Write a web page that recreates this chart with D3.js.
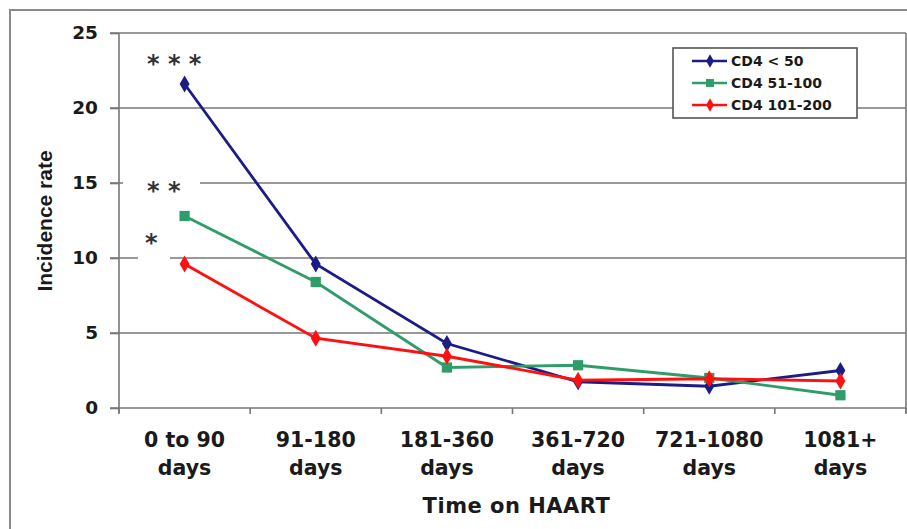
<!DOCTYPE html>
<html>
<head>
<meta charset="utf-8">
<script src="https://cdn.jsdelivr.net/npm/d3@7"></script>
<style>
    body { margin: 0; background: #fff; }
    svg { display: block; }
</style>
</head>
<body>
<script>
// chart data
const categories = [
    ["0 to 90", "days"],
    ["91-180", "days"],
    ["181-360", "days"],
    ["361-720", "days"],
    ["721-1080", "days"],
    ["1081+", "days"]
]
const seriesNames = ["CD4 < 50", "CD4 51-100", "CD4 101-200"]
const cd4Under50 = [21.6, 9.6, 4.3, 1.75, 1.45, 2.5]
const cd4From51 = [12.8, 8.4, 2.7, 2.85, 2.0, 0.85]
const cd4From101 = [9.6, 4.65, 3.45, 1.85, 1.95, 1.8]
const yTicks = [0, 5, 10, 15, 20, 25]
const stars = ["* * *", "* *", "*"]

const W = 907, H = 529
const margin = { top: 33, right: 1, bottom: 121, left: 119 }
    , width = W - margin.left - margin.right
    , height = H - margin.top - margin.bottom

const font = "'DejaVu Sans', sans-serif"
const colors = ["#1c1c86", "#2f9d6a", "#ff1010"]
const shapes = [d3.symbolDiamond, d3.symbolSquare, d3.symbolDiamond]
const sizes = [85, 105, 85]

const series = [cd4Under50, cd4From51, cd4From101].map((vals, i) => ({
    name: seriesNames[i],
    color: colors[i],
    shape: shapes[i],
    size: sizes[i],
    values: vals.map((v, j) => ({ cat: categories[j][0], v: v }))
}))

const svg = d3.select("body").append("svg")
    .attr("width", W)
    .attr("height", H)

// outer frame of the chart
svg.append("rect")
    .attr("x", 10).attr("y", 10)
    .attr("width", W + 20).attr("height", H + 20)
    .attr("fill", "none")
    .attr("stroke", "#8a8a8a")
    .attr("stroke-width", 2)

const xScale = d3.scaleBand()
    .domain(categories.map(c => c[0]))
    .range([margin.left, margin.left + width])

const yScale = d3.scaleLinear()
    .domain([0, 25])
    .range([margin.top + height, margin.top])

const gridColor = "#777"

// gridlines + y tick marks
svg.append("g")
    .selectAll("line")
    .data(yTicks.filter(t => t > 0))
    .enter()
    .append("line")
    .attr("x1", margin.left - 9)
    .attr("x2", margin.left + width)
    .attr("y1", d => yScale(d))
    .attr("y2", d => yScale(d))
    .attr("stroke", gridColor)
    .attr("stroke-width", 1.6)

// right edge of plot area
svg.append("line")
    .attr("x1", margin.left + width).attr("x2", margin.left + width)
    .attr("y1", yScale(25)).attr("y2", yScale(0) + 5)
    .attr("stroke", gridColor)
    .attr("stroke-width", 1.6)

// y axis
const yAxis = svg.append("g")
    .attr("transform", "translate(" + margin.left + ",0)")
    .call(d3.axisLeft(yScale).tickValues(yTicks).tickSize(9).tickPadding(12))
yAxis.select(".domain").attr("d", "M0," + yScale(25) + "V" + (yScale(0) + 5))
yAxis.selectAll("line, path").attr("stroke", gridColor).attr("stroke-width", 1.6)
yAxis.selectAll("text")
    .attr("fill", "#1a1a1a")
    .style("font-family", font)
    .style("font-weight", "bold")
    .style("font-size", "18.5px")

// x axis with ticks at the category boundaries
const xAxisG = svg.append("g")
xAxisG.append("line")
    .attr("x1", margin.left - 9).attr("x2", margin.left + width)
    .attr("y1", yScale(0)).attr("y2", yScale(0))
    .attr("stroke", gridColor)
    .attr("stroke-width", 1.6)
const bounds = categories.map(c => xScale(c[0])).concat([margin.left + width])
xAxisG.selectAll(".xt")
    .data(bounds)
    .enter()
    .append("line")
    .attr("x1", d => d).attr("x2", d => d)
    .attr("y1", yScale(0)).attr("y2", yScale(0) + 6)
    .attr("stroke", gridColor)
    .attr("stroke-width", 1.6)

// category labels on two lines
const catLabels = xAxisG.selectAll(".cat")
    .data(categories)
    .enter()
    .append("text")
    .attr("text-anchor", "middle")
    .attr("fill", "#1a1a1a")
    .style("font-family", font)
    .style("font-weight", "bold")
    .style("font-size", "20.5px")
catLabels.append("tspan")
    .attr("x", d => xScale(d[0]) + xScale.bandwidth() / 2)
    .attr("y", yScale(0) + 39)
    .text(d => d[0])
catLabels.append("tspan")
    .attr("x", d => xScale(d[0]) + xScale.bandwidth() / 2)
    .attr("y", yScale(0) + 67)
    .text(d => d[1])

// axis titles
svg.append("text")
    .attr("text-anchor", "middle")
    .attr("x", margin.left + width / 2 + 4)
    .attr("y", 513)
    .attr("fill", "#1a1a1a")
    .style("font-family", font)
    .style("font-weight", "bold")
    .style("font-size", "21px")
    .style("letter-spacing", "0.5px")
    .text("Time on HAART")

svg.append("text")
    .attr("text-anchor", "middle")
    .attr("transform", "translate(52," + 221 + ")rotate(-90)")
    .attr("fill", "#1a1a1a")
    .style("font-family", "'Liberation Sans', Arial, sans-serif")
    .style("font-weight", "bold")
    .style("font-size", "21px")
    .text("Incidence rate")

// significance stars, with white boxes that cut the gridlines
const x0 = xScale(categories[0][0])
const starPos = [
    { x: x0 + 28, y: yScale(21.6) - 12, box: null },
    { x: x0 + 28, y: yScale(12.8) - 17, box: [x0 + 4, yScale(15) - 8, 77, 18] },
    { x: x0 + 26, y: yScale(9.6) - 13, box: [x0 + 19, yScale(10) - 24, 32, 30] }
]
stars.forEach((s, i) => {
    const p = starPos[i]
    if (p.box) {
        svg.append("rect")
            .attr("x", p.box[0])
            .attr("y", p.box[1])
            .attr("width", p.box[2])
            .attr("height", p.box[3])
            .attr("fill", "#fff")
    }
    svg.append("text")
        .attr("x", p.x)
        .attr("y", p.y)
        .attr("fill", "#333")
        .style("font-family", font)
        .style("font-size", "24px")
        .style("font-weight", "bold")
        .text(s)
})

// lines and markers
const line = d3.line()
    .x(d => xScale(d.cat) + xScale.bandwidth() / 2)
    .y(d => yScale(d.v))

series.forEach(s => {
    svg.append("path")
        .datum(s.values)
        .attr("d", line)
        .attr("fill", "none")
        .attr("stroke", s.color)
        .attr("stroke-width", 2.8)
    svg.selectAll(null)
        .data(s.values)
        .enter()
        .append("path")
        .attr("d", d3.symbol().type(s.shape).size(s.size))
        .attr("transform", d => "translate(" + (xScale(d.cat) + xScale.bandwidth() / 2) + "," + yScale(d.v) + ")")
        .attr("fill", s.color)
})

// legend
const legend = svg.append("g").attr("transform", "translate(673,48)")
legend.append("rect")
    .attr("width", 184).attr("height", 70)
    .attr("fill", "#fff")
    .attr("stroke", "#555")
    .attr("stroke-width", 1.6)
series.forEach((s, i) => {
    const ly = 13 + i * 22
    legend.append("line")
        .attr("x1", 19).attr("x2", 54)
        .attr("y1", ly).attr("y2", ly)
        .attr("stroke", s.color)
        .attr("stroke-width", 2.6)
    legend.append("path")
        .attr("d", d3.symbol().type(s.shape).size(s.size * 0.6))
        .attr("transform", "translate(37," + ly + ")")
        .attr("fill", s.color)
    legend.append("text")
        .attr("x", 58)
        .attr("y", ly + 5)
        .attr("fill", "#1a1a1a")
        .style("font-family", font)
        .style("font-weight", "bold")
        .style("font-size", "14px")
        .text(s.name)
})
</script>
</body>
</html>
